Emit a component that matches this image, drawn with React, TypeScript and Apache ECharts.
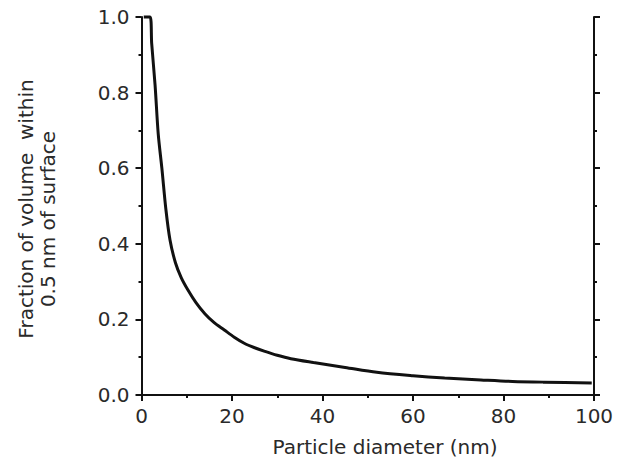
import React, { useEffect, useRef } from "react";
import * as echarts from "echarts";

const diameters = [0.5, 1.9, 2.25, 3.0, 3.7, 4.5, 5.4, 6.3, 7.5, 8.8, 10.3, 12, 14, 16, 18.3, 20.5, 22.7, 25, 27.1, 30, 33, 38, 45, 52, 60, 67, 75, 82, 89, 99.5];
const fractions = [1.0, 1.0, 0.93, 0.82, 0.69, 0.6, 0.49, 0.41, 0.35, 0.31, 0.277, 0.245, 0.215, 0.192, 0.172, 0.153, 0.137, 0.125, 0.116, 0.105, 0.096, 0.086, 0.073, 0.06, 0.051, 0.045, 0.04, 0.036, 0.034, 0.032];
const xTitle = "Particle diameter (nm)";
const yTitleLine1 = "Fraction of volume  within";
const yTitleLine2 = "0.5 nm of surface";

const FONT = "DejaVu Sans";
const TEXT = "#2a2a2a";
const INK = "#111111";

export default function App() {
  const ref = useRef<HTMLDivElement>(null);
  useEffect(() => {
    if (!ref.current) return;
    const chart = echarts.init(ref.current, null, { renderer: "svg" });
    const axisCommon = {
      type: "value" as const,
      min: 0,
      splitLine: { show: false },
      axisLine: { show: true, onZero: false, lineStyle: { color: INK, width: 2 } },
      axisTick: { show: true, inside: false, length: 6, lineStyle: { color: INK, width: 2 } },
      minorTick: { show: true, splitNumber: 2, length: 3, lineStyle: { color: INK, width: 2 } },
      minorSplitLine: { show: false },
    };
    chart.setOption({
      animation: false,
      backgroundColor: "#ffffff",
      grid: { left: 141.5, right: 25, top: 17, bottom: 67, containLabel: false },
      xAxis: {
        ...axisCommon,
        max: 100,
        interval: 20,
        position: "bottom",
        axisLabel: { color: TEXT, fontFamily: FONT, fontSize: 20, margin: 11 },
      },
      yAxis: [
        {
          ...axisCommon,
          max: 1,
          interval: 0.2,
          position: "left",
          axisLabel: {
            color: TEXT,
            fontFamily: FONT,
            fontSize: 20,
            margin: 12,
            formatter: (v: number) => v.toFixed(1),
          },
        },
        {
          ...axisCommon,
          max: 1,
          interval: 0.2,
          position: "right",
          axisLabel: { show: false },
        },
      ],
      graphic: [
        {
          type: "text",
          x: 385,
          y: 447,
          style: {
            text: xTitle,
            fill: TEXT,
            font: `20px "${FONT}"`,
            textAlign: "center",
            textVerticalAlign: "middle",
          },
        },
        {
          type: "text",
          x: 26,
          y: 209,
          rotation: Math.PI / 2,
          style: {
            text: yTitleLine1,
            fill: TEXT,
            font: `20px "${FONT}"`,
            textAlign: "center",
            textVerticalAlign: "middle",
          },
        },
        {
          type: "text",
          x: 48,
          y: 219,
          rotation: Math.PI / 2,
          style: {
            text: yTitleLine2,
            fill: TEXT,
            font: `20px "${FONT}"`,
            textAlign: "center",
            textVerticalAlign: "middle",
          },
        },
      ],
      series: [
        {
          type: "line",
          data: diameters.map((d, i) => [d, fractions[i]]),
          showSymbol: false,
          smooth: 0.3,
          clip: false,
          lineStyle: { color: INK, width: 3 },
        },
      ],
    });
    return () => chart.dispose();
  }, []);
  return <div ref={ref} style={{ width: 619, height: 462, position: "absolute", left: 0, top: 0 }} />;
}
